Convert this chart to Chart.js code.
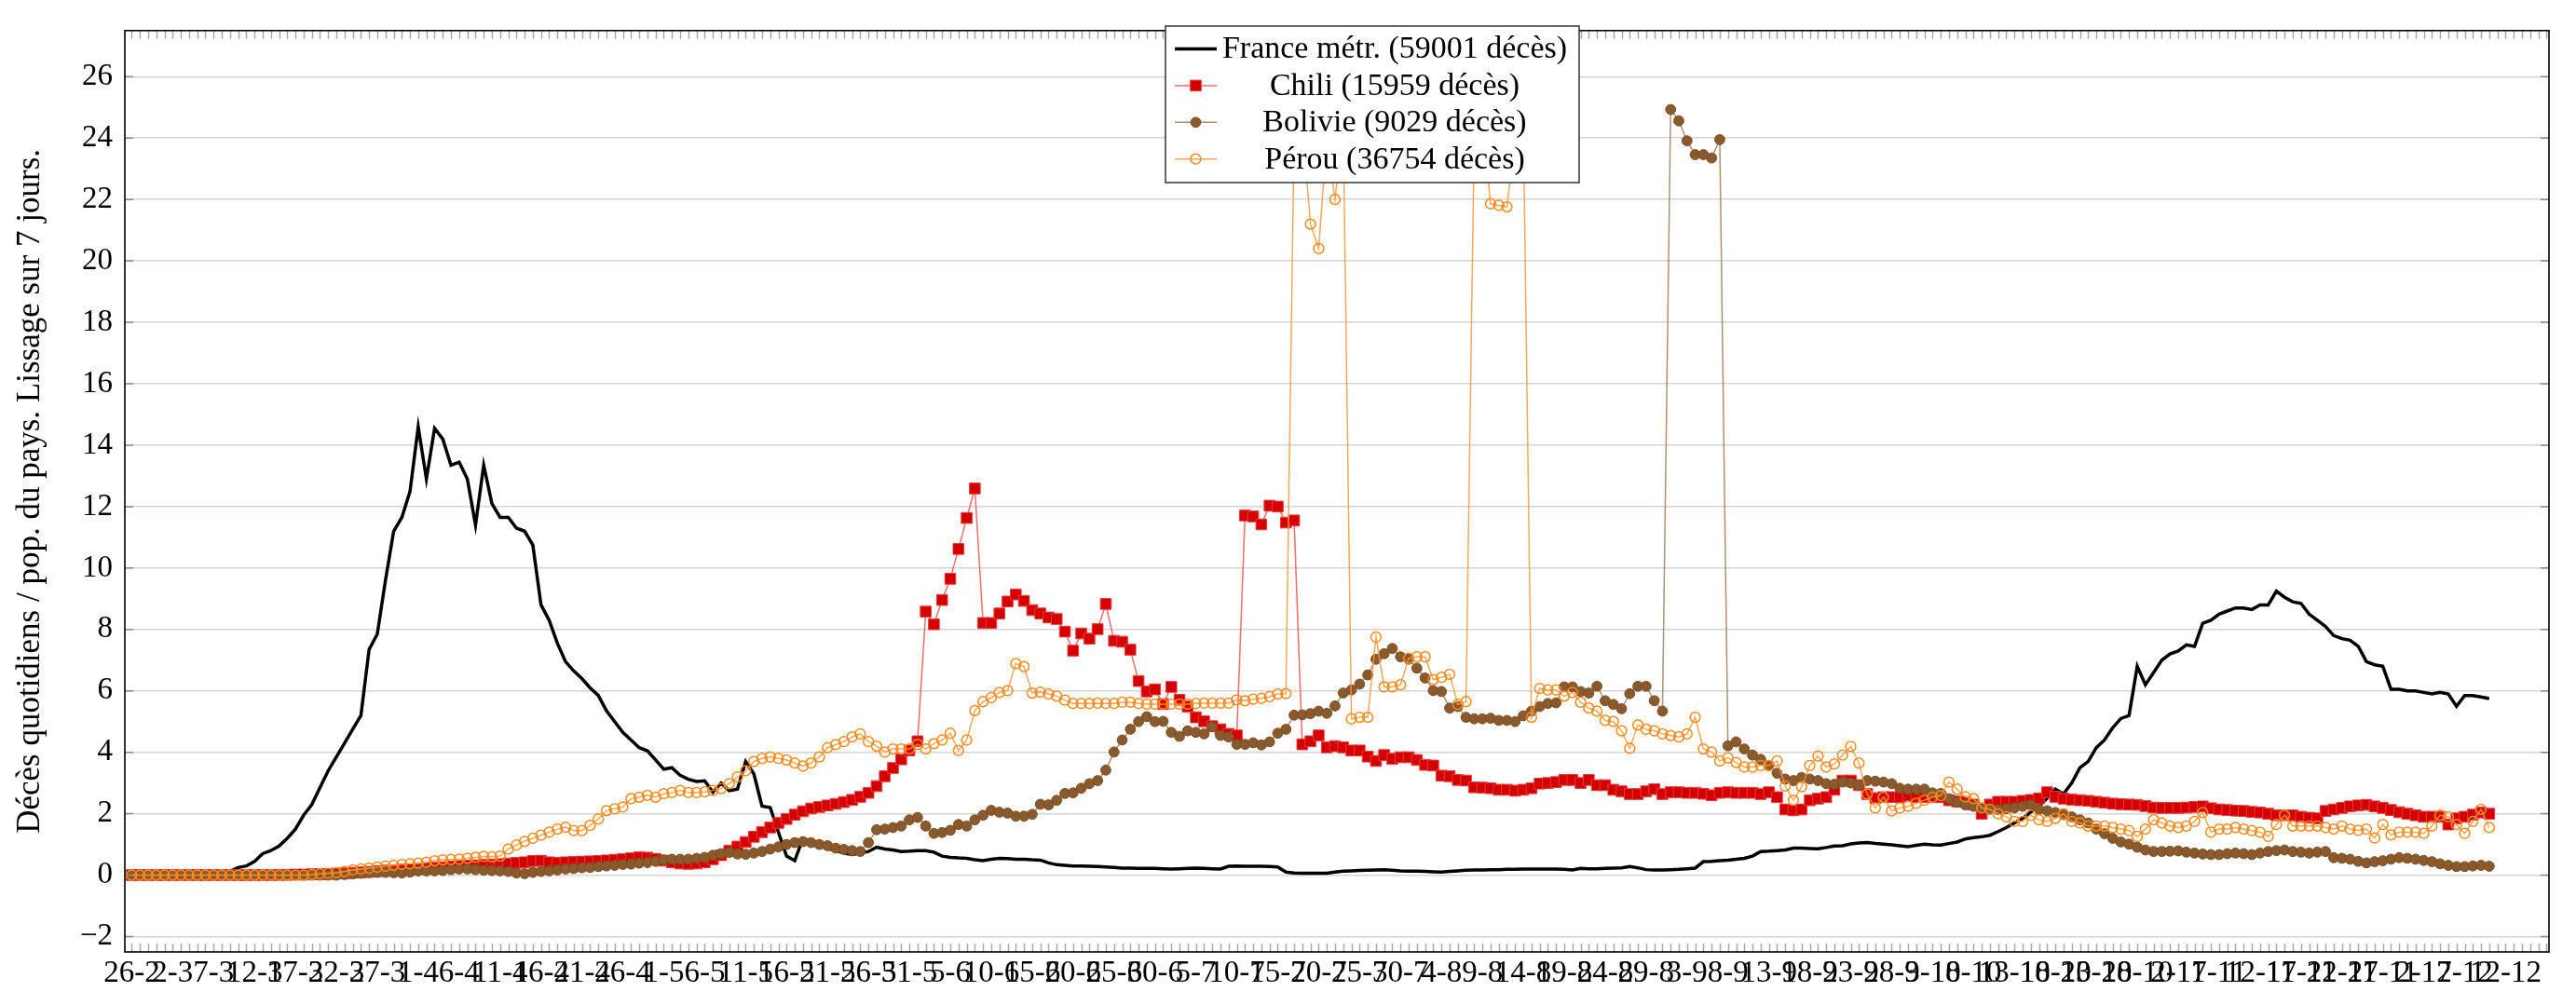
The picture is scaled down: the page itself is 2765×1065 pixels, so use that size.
<!DOCTYPE html>
<html>
  <head>
    <title>Décès quotidiens</title>
    <script src="https://cdn.jsdelivr.net/npm/chart.js"></script>
    <style>
      body {
        background: #fff;
        margin: 0;
        overflow: hidden;
      }
      canvas {
        display: block;
      }
    </style>
  </head>
  <body>
    <canvas id="chart" width="2765" height="1065"></canvas>

    <script>
      // x = days since 26-2 (one value per day, 26-2 .. 10-12)
      const tickLabels = ['26-2','2-3','7-3','12-3','17-3','22-3','27-3','1-4','6-4','11-4','16-4','21-4','26-4',
        '1-5','6-5','11-5','16-5','21-5','26-5','31-5','5-6','10-6','15-6','20-6','25-6','30-6','5-7','10-7',
        '15-7','20-7','25-7','30-7','4-8','9-8','14-8','19-8','24-8','29-8','3-9','8-9','13-9','18-9','23-9',
        '28-9','3-10','8-10','13-10','18-10','23-10','28-10','2-11','7-11','12-11','17-11','22-11','27-11',
        '2-12','7-12','12-12'];
      const yTicks = [-2, 0, 2, 4, 6, 8, 10, 12, 14, 16, 18, 20, 22, 24, 26];
      const yTitle = 'Décès quotidiens / pop. du pays. Lissage sur 7 jours.';
      const seriesNames = ['France métr. (59001 décès)', 'Chili (15959 décès)', 'Bolivie (9029 décès)', 'Pérou (36754 décès)'];

      const france = [
        0,0,0,0,0,0,0,0,0,0.05,
        0.08,0.1,0.12,0.25,0.3,0.45,0.7,0.8,0.95,1.2,
        1.5,1.95,2.3,2.85,3.4,3.85,4.3,4.75,5.2,7.35,
        7.85,9.6,11.2,11.65,12.5,14.6,12.9,14.55,14.2,13.35,
        13.45,12.9,11.4,13.35,12.1,11.65,11.65,11.3,11.2,10.75,
        8.8,8.3,7.55,6.95,6.65,6.4,6.1,5.85,5.35,5.0,
        4.65,4.4,4.15,4.05,3.75,3.45,3.5,3.25,3.12,3.05,
        3.07,2.7,3.0,2.75,2.8,3.7,3.3,2.25,2.2,1.4,
        0.62,0.47,1.2,1.1,0.95,0.87,0.8,0.72,0.67,0.72,
        0.77,0.91,0.85,0.82,0.77,0.78,0.8,0.8,0.75,0.62,
        0.58,0.56,0.55,0.5,0.47,0.52,0.55,0.54,0.52,0.52,
        0.5,0.49,0.4,0.34,0.32,0.3,0.3,0.29,0.28,0.27,
        0.25,0.23,0.23,0.22,0.22,0.22,0.21,0.2,0.21,0.22,
        0.23,0.22,0.21,0.2,0.29,0.3,0.29,0.29,0.29,0.28,
        0.27,0.1,0.07,0.06,0.06,0.06,0.06,0.1,0.13,0.14,
        0.15,0.16,0.17,0.18,0.16,0.14,0.13,0.13,0.12,0.11,
        0.1,0.12,0.14,0.16,0.17,0.17,0.18,0.18,0.19,0.19,
        0.2,0.2,0.2,0.2,0.2,0.19,0.17,0.22,0.21,0.21,
        0.22,0.23,0.24,0.28,0.24,0.18,0.17,0.17,0.18,0.19,
        0.21,0.23,0.44,0.45,0.47,0.49,0.52,0.55,0.62,0.77,
        0.78,0.8,0.82,0.88,0.88,0.87,0.86,0.9,0.95,0.96,
        1.02,1.05,1.06,1.03,1.01,0.99,0.96,0.93,0.97,1.01,
        0.99,0.98,1.03,1.08,1.18,1.22,1.25,1.3,1.42,1.55,
        1.7,1.85,2.05,2.25,2.5,2.8,2.65,3.0,3.5,3.7,
        4.15,4.4,4.8,5.1,5.2,6.8,6.2,6.6,7.0,7.2,
        7.3,7.5,7.45,8.2,8.3,8.5,8.6,8.7,8.7,8.65,
        8.8,8.8,9.25,9.05,8.9,8.85,8.5,8.3,8.1,7.8,
        7.7,7.65,7.45,6.95,6.85,6.8,6.05,6.05,6.0,6.0,
        5.95,5.9,5.95,5.9,5.5,5.85,5.85,5.8,5.75
      ];
      const chili = [
        0,0,0,0,0,0,0,0,0,0,
        0,0,0,0,0,0,0,0,0.01,0.01,
        0.02,0.02,0.03,0.03,0.04,0.05,0.06,0.08,0.09,0.11,
        0.13,0.15,0.16,0.18,0.19,0.2,0.22,0.24,0.26,0.28,
        0.3,0.31,0.32,0.34,0.35,0.36,0.38,0.4,0.42,0.46,
        0.47,0.42,0.4,0.42,0.43,0.44,0.45,0.46,0.48,0.5,
        0.52,0.55,0.58,0.57,0.53,0.47,0.42,0.38,0.37,0.38,
        0.42,0.52,0.65,0.8,0.93,1.08,1.25,1.4,1.55,1.7,
        1.83,1.97,2.08,2.17,2.22,2.27,2.32,2.38,2.45,2.55,
        2.68,2.9,3.22,3.49,3.77,4.06,4.36,8.58,8.17,8.96,
        9.65,10.62,11.63,12.59,8.21,8.21,8.52,8.91,9.14,8.93,
        8.63,8.52,8.39,8.34,7.93,7.31,7.87,7.7,8.01,8.83,
        7.63,7.6,7.34,6.32,5.98,6.05,5.57,6.13,5.71,5.49,
        5.14,5.01,4.85,4.75,4.6,4.55,11.71,11.68,11.42,12.03,
        12.0,11.48,11.55,4.26,4.36,4.55,4.16,4.2,4.16,4.06,
        4.06,3.86,3.72,3.91,3.79,3.84,3.84,3.75,3.59,3.57,
        3.24,3.22,3.1,3.08,2.86,2.85,2.83,2.78,2.78,2.75,
        2.78,2.83,2.98,3.0,3.03,3.1,3.1,3.0,3.1,2.93,
        2.93,2.78,2.73,2.64,2.64,2.73,2.8,2.64,2.7,2.7,
        2.68,2.68,2.65,2.6,2.68,2.7,2.68,2.68,2.68,2.64,
        2.7,2.54,2.14,2.11,2.14,2.44,2.49,2.54,2.78,3.08,
        3.08,2.93,2.64,2.51,2.54,2.54,2.54,2.59,2.54,2.54,
        2.54,2.54,2.44,2.4,2.38,2.3,2.0,2.3,2.39,2.39,
        2.39,2.42,2.45,2.5,2.7,2.55,2.49,2.46,2.44,2.42,
        2.39,2.36,2.33,2.31,2.3,2.29,2.25,2.2,2.19,2.19,
        2.19,2.2,2.22,2.24,2.18,2.14,2.12,2.1,2.09,2.06,
        2.04,2.0,1.95,1.95,1.95,1.9,1.87,1.85,2.09,2.14,
        2.19,2.24,2.27,2.29,2.24,2.19,2.12,2.05,2.0,1.95,
        1.9,1.9,1.9,1.65,1.85,1.9,1.97,2.04,2.0
      ];
      const bolivie = [
        0,0,0,0,0,0,0,0,0,0,
        0,0,0,0,0,0,0,0,0,0,
        0,0,0,0,0,0,0.02,0.04,0.06,0.08,
        0.09,0.09,0.08,0.07,0.1,0.14,0.14,0.14,0.15,0.18,
        0.2,0.2,0.18,0.16,0.15,0.14,0.12,0.07,0.05,0.09,
        0.12,0.14,0.17,0.2,0.22,0.24,0.25,0.28,0.3,0.32,
        0.35,0.36,0.39,0.41,0.45,0.5,0.52,0.52,0.52,0.55,
        0.58,0.65,0.7,0.74,0.69,0.68,0.72,0.77,0.85,0.92,
        1.0,1.06,1.09,1.06,1.0,0.96,0.88,0.84,0.8,0.77,
        1.06,1.48,1.5,1.55,1.6,1.8,1.88,1.6,1.36,1.39,
        1.46,1.65,1.6,1.8,1.95,2.11,2.05,2.02,1.92,1.92,
        1.98,2.31,2.29,2.44,2.66,2.68,2.83,2.98,3.08,3.42,
        4.01,4.4,4.75,5.0,5.16,5.0,5.01,4.65,4.52,4.7,
        4.65,4.6,4.83,4.55,4.5,4.26,4.26,4.31,4.24,4.34,
        4.62,4.75,5.21,5.22,5.26,5.34,5.27,5.51,5.93,6.03,
        6.22,6.52,7.03,7.21,7.38,7.11,7.03,6.74,6.42,6.01,
        5.98,5.44,5.49,5.14,5.09,5.09,5.11,5.04,5.04,5.0,
        5.19,5.34,5.49,5.59,5.61,6.13,6.13,5.98,5.93,6.15,
        5.68,5.56,5.42,5.91,6.15,6.15,5.68,5.34,24.93,24.56,
        23.91,23.46,23.46,23.35,23.95,4.21,4.34,4.11,3.91,3.77,
        3.57,3.32,3.13,3.08,3.18,3.13,3.08,2.98,2.96,3.03,
        3.0,2.93,3.08,3.06,3.03,2.98,2.83,2.8,2.8,2.8,
        2.68,2.66,2.49,2.38,2.29,2.24,2.19,2.15,2.14,2.16,
        2.19,2.24,2.29,2.14,2.1,2.04,1.97,1.9,1.8,1.7,
        1.5,1.35,1.2,1.08,1.01,0.91,0.82,0.77,0.77,0.78,
        0.79,0.75,0.72,0.69,0.67,0.67,0.7,0.72,0.7,0.67,
        0.72,0.77,0.8,0.82,0.77,0.75,0.72,0.75,0.77,0.57,
        0.55,0.52,0.45,0.4,0.44,0.47,0.52,0.57,0.55,0.52,
        0.48,0.44,0.37,0.32,0.28,0.28,0.3,0.32,0.29
      ];
      const perou = [
        0,0,0,0,0,0,0,0,0,0,
        0,0,0,0,0,0,0,0,0,0,
        0,0,0.02,0.04,0.06,0.08,0.12,0.17,0.2,0.23,
        0.26,0.29,0.32,0.35,0.37,0.39,0.42,0.47,0.5,0.51,
        0.52,0.55,0.58,0.61,0.6,0.62,0.85,0.98,1.1,1.2,
        1.3,1.4,1.5,1.56,1.45,1.45,1.62,1.83,2.1,2.16,
        2.22,2.49,2.54,2.6,2.54,2.65,2.69,2.76,2.69,2.69,
        2.71,2.76,2.82,2.98,3.2,3.4,3.7,3.8,3.85,3.8,
        3.75,3.65,3.55,3.65,3.85,4.15,4.25,4.35,4.5,4.6,
        4.35,4.2,4.01,4.11,4.11,4.11,4.26,4.11,4.28,4.4,
        4.62,4.06,4.4,5.36,5.65,5.78,5.95,6.01,6.89,6.79,
        5.93,5.96,5.9,5.83,5.7,5.59,5.59,5.59,5.6,5.59,
        5.59,5.63,5.63,5.59,5.57,5.57,5.57,5.57,5.57,5.57,
        5.59,5.6,5.6,5.6,5.6,5.71,5.68,5.73,5.76,5.81,
        5.9,5.91,24.0,24.5,21.2,20.4,24.0,22.0,24.5,5.09,
        5.14,5.14,7.75,6.13,6.13,6.2,7.06,7.11,7.11,6.37,
        6.44,6.54,5.56,5.65,24.0,24.5,21.86,21.81,21.76,24.0,
        24.5,5.14,6.08,6.03,6.03,5.83,5.95,5.63,5.44,5.34,
        5.04,5.0,4.7,4.13,4.89,4.75,4.7,4.6,4.55,4.5,
        4.6,5.14,4.11,4.01,3.72,3.82,3.67,3.52,3.52,3.57,
        3.57,3.72,2.9,2.44,2.88,3.57,3.88,3.52,3.62,3.91,
        4.19,3.65,2.64,2.19,2.54,2.09,2.19,2.24,2.34,2.44,
        2.54,2.59,3.03,2.8,2.55,2.49,2.19,2.14,2.0,1.9,
        1.75,1.75,1.95,1.8,1.75,1.85,2.0,1.75,1.7,1.6,
        1.6,1.6,1.55,1.5,1.45,1.26,1.5,1.8,1.7,1.6,
        1.55,1.6,1.75,2.04,1.4,1.5,1.5,1.55,1.5,1.45,
        1.4,1.26,1.65,1.95,1.6,1.6,1.6,1.6,1.55,1.5,
        1.6,1.5,1.46,1.5,1.21,1.65,1.31,1.4,1.4,1.4,
        1.36,1.6,1.95,1.9,1.65,1.36,1.75,2.14,1.55
      ];

      const serif = "'Liberation Serif', 'Times New Roman', serif";
      const toPoints = arr => arr.map((v, i) => ({ x: i, y: v }));

      // Ticks inside the box, frame and the legend drawn over the plot
      const framePlugin = {
        id: 'frame',
        afterDraw(chart) {
          const { ctx, chartArea: a, scales } = chart;
          const xs = scales.x;
          const ys = scales.y;
          ctx.save();

          ctx.lineWidth = 1.5;
          ctx.strokeStyle = '#a8a8a8';
          ctx.beginPath();
          for (let d = 0; d <= xs.max; d++) {
            const px = Math.round(xs.getPixelForValue(d)) + 0.5;
            ctx.moveTo(px, a.bottom);
            ctx.lineTo(px, a.bottom - 9);
            ctx.moveTo(px, a.top);
            ctx.lineTo(px, a.top + 9);
          }
          ctx.stroke();

          ctx.strokeStyle = '#8a8a8a';
          ctx.beginPath();
          yTicks.forEach(v => {
            const py = ys.getPixelForValue(v);
            ctx.moveTo(a.left, py);
            ctx.lineTo(a.left + 9, py);
            ctx.moveTo(a.right - 9, py);
            ctx.lineTo(a.right, py);
          });
          ctx.stroke();

          ctx.strokeStyle = '#000';
          ctx.lineWidth = 1.6;
          ctx.strokeRect(a.left, a.top, a.right - a.left, a.bottom - a.top);

          // legend
          const box = { x: 1251, y: 28, w: 444, h: 168 };
          ctx.fillStyle = '#fff';
          ctx.fillRect(box.x, box.y, box.w, box.h);
          ctx.strokeStyle = '#333';
          ctx.lineWidth = 1.5;
          ctx.strokeRect(box.x, box.y, box.w, box.h);

          ctx.font = '34px ' + serif;
          ctx.textAlign = 'center';
          ctx.textBaseline = 'middle';
          chart.data.datasets.forEach((ds, i) => {
            const cy = box.y + 24.5 + i * 39.4;
            ctx.strokeStyle = ds.borderColor;
            ctx.lineWidth = ds.borderWidth;
            ctx.beginPath();
            ctx.moveTo(1261, cy);
            ctx.lineTo(1306, cy);
            ctx.stroke();
            if (ds.pointRadius > 0) {
              ctx.fillStyle = ds.pointBackgroundColor;
              ctx.strokeStyle = ds.pointBorderColor;
              ctx.lineWidth = ds.pointBorderWidth;
              ctx.beginPath();
              if (ds.pointStyle === 'rect') {
                const s = ds.pointRadius * Math.SQRT1_2;
                ctx.rect(1283.5 - s, cy - s, 2 * s, 2 * s);
              } else {
                ctx.arc(1283.5, cy, ds.pointRadius, 0, Math.PI * 2);
              }
              ctx.fill();
              ctx.stroke();
            }
            ctx.fillStyle = '#000';
            ctx.fillText(ds.label, 1497, cy + 1);
          });

          ctx.restore();
        }
      };

      new Chart(document.getElementById('chart').getContext('2d'), {
        type: 'line',
        data: {
          datasets: [
            {
              label: seriesNames[0],
              data: toPoints(france),
              borderColor: '#000',
              borderWidth: 3.5,
              pointRadius: 0,
              order: 4
            },
            {
              label: seriesNames[1],
              data: toPoints(chili),
              borderColor: 'rgba(240, 70, 70, 0.8)',
              borderWidth: 1.5,
              pointStyle: 'rect',
              pointRadius: 8.2,
              pointBackgroundColor: '#d40000',
              pointBorderColor: '#e83a3a',
              pointBorderWidth: 1,
              order: 3
            },
            {
              label: seriesNames[2],
              data: toPoints(bolivie),
              borderColor: 'rgba(160, 125, 90, 0.85)',
              borderWidth: 1.5,
              pointStyle: 'circle',
              pointRadius: 5.4,
              pointBackgroundColor: '#8a5a2c',
              pointBorderColor: '#7a4e24',
              pointBorderWidth: 1,
              order: 2
            },
            {
              label: seriesNames[3],
              data: toPoints(perou),
              borderColor: 'rgba(255, 150, 60, 0.85)',
              borderWidth: 1.5,
              pointStyle: 'circle',
              pointRadius: 5.4,
              pointBackgroundColor: 'rgba(255, 255, 255, 0)',
              pointBorderColor: '#ff8a1c',
              pointBorderWidth: 1.5,
              order: 1
            }
          ]
        },
        options: {
          responsive: false,
          animation: false,
          devicePixelRatio: 1,
          layout: {
            padding: { left: 0, right: 29, top: 7, bottom: 0 }
          },
          scales: {
            x: {
              type: 'linear',
              min: -0.84,
              max: 295.3,
              afterBuildTicks: scale => {
                scale.ticks = tickLabels.map((_, i) => ({ value: i * 5 }));
              },
              afterFit: scale => {
                scale.height = 43;
              },
              grid: { display: false, drawTicks: false },
              border: { display: false },
              ticks: {
                autoSkip: false,
                maxRotation: 0,
                minRotation: 0,
                padding: 4,
                color: '#000',
                font: { family: serif, size: 33 },
                callback: (value, index) => tickLabels[index]
              }
            },
            y: {
              min: -2.5,
              max: 27.5,
              afterBuildTicks: scale => {
                scale.ticks = yTicks.map(v => ({ value: v }));
              },
              afterFit: scale => {
                scale.width = 134;
              },
              grid: { color: '#d4d4d4', lineWidth: 1.5, drawTicks: false },
              border: { display: false },
              ticks: {
                padding: 13,
                color: '#000',
                font: { family: serif, size: 33 },
                callback: value => (value < 0 ? '\u2212' + Math.abs(value) : String(value))
              },
              title: {
                display: true,
                text: yTitle,
                color: '#000',
                font: { family: serif, size: 35 },
                padding: { top: 12, bottom: 0 }
              }
            }
          },
          plugins: {
            legend: { display: false },
            tooltip: { enabled: false }
          }
        },
        plugins: [framePlugin]
      });
    </script>
  </body>
</html>
